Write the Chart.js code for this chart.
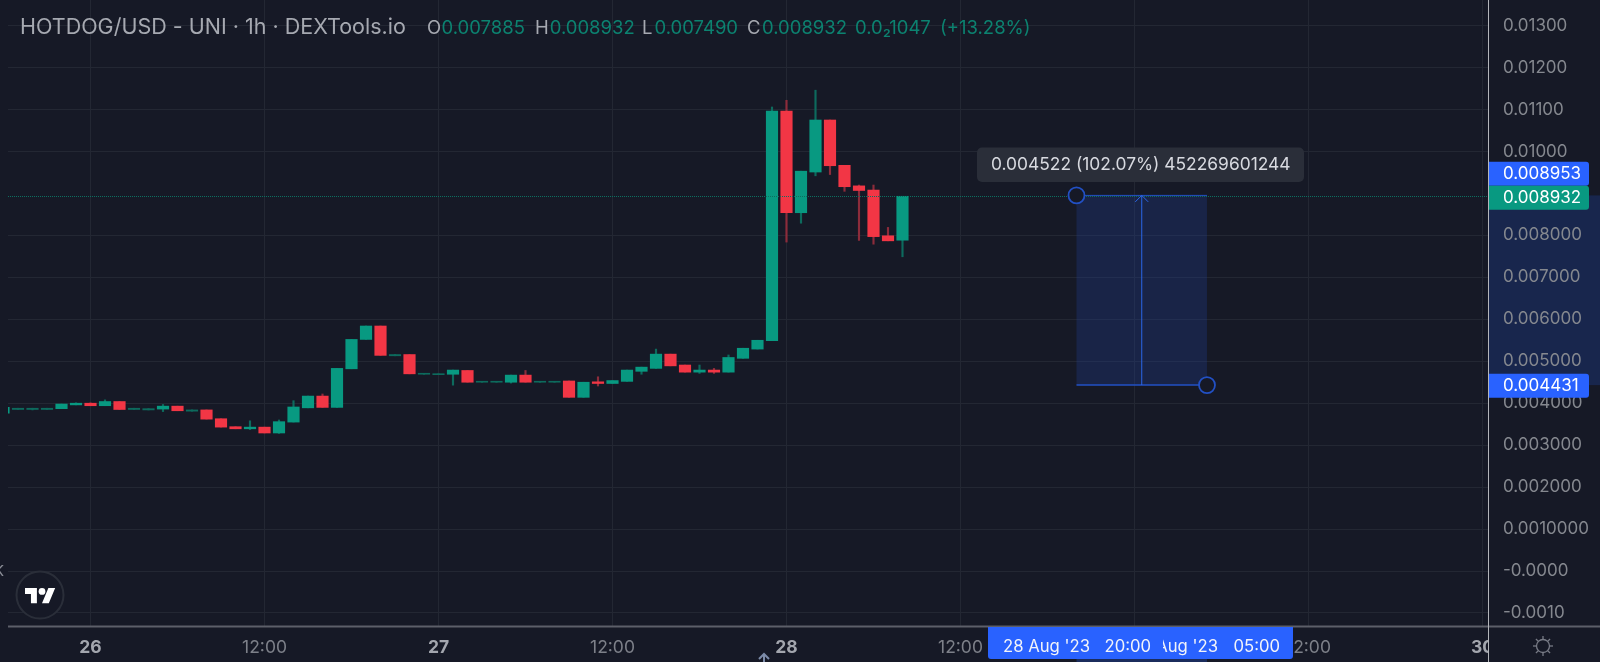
<!DOCTYPE html>
<html>
<head>
<meta charset="utf-8">
<title>HOTDOG/USD</title>
<script src="https://cdn.jsdelivr.net/npm/chart.js@4/dist/chart.umd.min.js"></script>
<style>
html,body{margin:0;padding:0;background:#161926;overflow:hidden}
canvas{display:block}
</style>
</head>
<body>
<canvas id="c" width="1600" height="662"></canvas>
<script>
// hourly candles, first one is 25 Aug 18:00 (hour 0 = 26 Aug 00:00)
const firstHour = -6;
const opens  = [.00376,.00385,.00385,.00385,.00387,.00396,.00400,.00394,.00404,.00385,.00384,.00386,.00393,.00381,.00384,.00363,.00344,.00339,.00343,.00329,.00355,.00389,.00417,.00390,.00482,.00552,.00584,.00513,.00516,.00469,.00468,.00469,.00478,.00450,.00450,.00450,.00467,.00450,.00450,.00453,.00414,.00451,.00447,.00452,.00476,.00483,.00517,.00491,.00474,.00479,.00474,.00507,.00529,.00549,.01096,.00854,.00951,.01075,.00967,.00918,.00908,.00799,.007885];
const highs  = [.00390,.00388,.00388,.00388,.00398,.00401,.00401,.00408,.00404,.00388,.00387,.00397,.00393,.00384,.00384,.00363,.00344,.00358,.00343,.00360,.00406,.00417,.00422,.00483,.00552,.00584,.00584,.00516,.00516,.00471,.00470,.00479,.00478,.00452,.00452,.00467,.00478,.00452,.00452,.00453,.00450,.00463,.00454,.00479,.00486,.00529,.00517,.00491,.00491,.00483,.00515,.00531,.00550,.01106,.01122,.00953,.01146,.01075,.00967,.00920,.00920,.00819,.008932];
const lows   = [.00376,.00385,.00384,.00385,.00387,.00396,.00394,.00394,.00385,.00385,.00384,.00380,.00382,.00381,.00362,.00343,.00339,.00337,.00329,.00328,.00355,.00389,.00390,.00390,.00482,.00552,.00514,.00513,.00470,.00469,.00468,.00443,.00450,.00450,.00450,.00448,.00450,.00450,.00450,.00414,.00414,.00441,.00447,.00452,.00469,.00483,.00489,.00474,.00471,.00471,.00474,.00507,.00529,.00549,.00784,.00829,.00942,.00945,.00905,.00788,.00779,.00787,.007490];
const closes = [.00390,.00388,.00388,.00388,.00398,.00400,.00394,.00404,.00385,.00388,.00387,.00393,.00382,.00384,.00362,.00343,.00339,.00343,.00329,.00356,.00391,.00417,.00390,.00483,.00552,.00584,.00514,.00516,.00470,.00471,.00470,.00479,.00450,.00452,.00452,.00467,.00450,.00452,.00452,.00414,.00450,.00447,.00454,.00479,.00486,.00517,.00489,.00474,.00479,.00474,.00509,.00531,.00550,.01096,.00854,.00953,.01075,.00966,.00916,.00907,.00797,.00787,.008932];

const priceTicks = [.013,.012,.011,.01,.009,.008,.007,.006,.005,.004,.003,.002,.001,0,-.001];
const priceLabels = ['0.01300','0.01200','0.01100','0.01000','','0.008000','0.007000','0.006000','0.005000','0.004000','0.003000','0.002000','0.0010000','-0.0000','-0.0010'];
const timeTicks = [0,12,24,36,48,60,72,84,96];
const timeLabels = ['26','12:00','27','12:00','28','12:00','29','12:00','30'];

const lastPrice = 0.008932;
const measureHours = [68,77];
const measurePrices = [0.008953,0.004431];

const UP='#089981', DOWN='#f23645', UP_DIM='#0d6a5d', DOWN_DIM='#8c2c3b';
const BG='#161926', GRID='#232733', FONT='Inter, "Liberation Sans", sans-serif';

const hours = opens.map((_,i)=>firstHour+i);
const isUp = i => closes[i]>=opens[i];
const isFlat = i => Math.abs(closes[i]-opens[i])<.00004;
const bodies = hours.map((h,i)=>({x:h,y:[opens[i],closes[i]]}));
const wicks = hours.map((h,i)=>({x:h,y:[lows[i],highs[i]]}));

function rr(g,x,y,w,h,r){g.beginPath();g.roundRect(x,y,w,h,r);}

const backPlugin = {
  id:'back',
  beforeDraw(chart){
    const g=chart.ctx, y=chart.scales.y;
    g.save();
    g.fillStyle=BG;g.fillRect(0,0,1600,662);
    g.fillStyle='#18264d';
    g.fillRect(chart.chartArea.right,y.getPixelForValue(measurePrices[0]),112,y.getPixelForValue(measurePrices[1])-y.getPixelForValue(measurePrices[0]));
    g.restore();
  }
};

const overlayPlugin = {
  id:'overlay',
  afterDatasetsDraw(chart){
    const g=chart.ctx, xs=chart.scales.x, ys=chart.scales.y, a=chart.chartArea;
    const x0=xs.getPixelForValue(measureHours[0]), x1=xs.getPixelForValue(measureHours[1]);
    const y0=ys.getPixelForValue(measurePrices[0]), y1=ys.getPixelForValue(measurePrices[1]);
    const mid=(x0+x1)/2;
    g.save();
    // measure box
    g.fillStyle='rgba(33,62,140,.33)';
    g.fillRect(x0,y0,x1-x0,y1-y0);
    // last price dotted line
    const py=Math.round(ys.getPixelForValue(lastPrice))+.5;
    g.strokeStyle='#0c6f60';g.lineWidth=1;g.setLineDash([1,1]);
    g.beginPath();g.moveTo(a.left,py);g.lineTo(a.right,py);g.stroke();
    g.setLineDash([]);
    // box edges and arrow
    g.strokeStyle='#2250c4';g.lineWidth=1;
    g.beginPath();g.moveTo(x0,y0);g.lineTo(x1,y0);g.stroke();
    g.lineWidth=1.5;
    g.beginPath();g.moveTo(x0,y1);g.lineTo(x1,y1);g.stroke();
    g.strokeStyle='#2b66e8';g.lineWidth=1;
    g.beginPath();g.moveTo(mid,y1);g.lineTo(mid,y0);g.stroke();
    g.beginPath();g.moveTo(mid-6.5,y0+6.5);g.lineTo(mid,y0);g.lineTo(mid+6.5,y0+6.5);g.stroke();
    // handles
    g.strokeStyle='#2250c4';g.lineWidth=1.8;g.fillStyle=BG;
    [[x0,y0],[x1,y1]].forEach(p=>{g.beginPath();g.arc(p[0],p[1],8,0,Math.PI*2);g.fill();g.stroke();});
    // tooltip
    g.fillStyle='#2a2e39';rr(g,977,147.5,327,34.5,5);g.fill();
    g.fillStyle='#d8dae0';g.font='17.4px '+FONT;g.textAlign='left';g.textBaseline='middle';
    g.fillText('0.004522 (102.07%) 452269601244',991,165);
    // TV logo
    g.fillStyle=BG;g.strokeStyle='#2a2e39';g.lineWidth=2;
    g.beginPath();g.arc(40,595,23.5,0,Math.PI*2);g.fill();g.stroke();
    g.save();g.translate(25,584.6);g.scale(.85,.85);
    g.fillStyle='#fff';g.fill(new Path2D('M14 22H7V11H0V4h14v18zM28 22h-8l7.5-18h8L28 22z'));
    g.beginPath();g.arc(20,8,4,0,Math.PI*2);g.fill();
    g.restore();
    g.restore();
  },
  afterDraw(chart){
    const g=chart.ctx, xs=chart.scales.x, ys=chart.scales.y, a=chart.chartArea;
    const x0=xs.getPixelForValue(measureHours[0]), x1=xs.getPixelForValue(measureHours[1]);
    g.save();
    // corner under the price scale
    g.fillStyle=BG;g.fillRect(a.right,a.bottom,112,36);
    // axis lines
    g.fillStyle='#5c5f69';g.fillRect(8,a.bottom-.5,1592,2);
    g.fillStyle='#b4b6bb';g.fillRect(a.right,0,1,662);
    // time range label
    g.fillStyle='#1b2c5c';g.fillRect(x0,658,x1-x0,4);
    g.fillStyle='#2962ff';rr(g,988,a.bottom+1,305,32,[0,0,3,3]);g.fill();
    g.fillStyle='#f2f4fa';g.font='16.7px '+FONT;g.textBaseline='middle';g.textAlign='left';
    const ty=646.5;
    g.fillText("28 Aug '23",1003,ty);
    g.fillText('20:00',1104.5,ty);
    g.save();g.beginPath();g.rect(1163,a.bottom,130,36);g.clip();
    g.textAlign='right';g.fillText("29 Aug '23",1218,ty);g.restore();
    g.fillText('05:00',1233.5,ty);
    // price labels
    g.font='17px '+FONT;
    [[161.7,'#2962ff','0.008953'],[185.7,'#089981','0.008932'],[373.7,'#2962ff','0.004431']].forEach(l=>{
      g.fillStyle=l[1];rr(g,a.right+1,l[0],100,24,[0,3,3,0]);g.fill();
      g.fillStyle='#fff';g.textAlign='left';g.fillText(l[2],1503,l[0]+12.5);
    });
    // gear
    g.strokeStyle='#787b86';g.lineWidth=1.3;
    g.beginPath();g.arc(1543,646,6.5,0,Math.PI*2);g.stroke();
    for(let i=0;i<8;i++){
      const t=i*Math.PI/4, c=Math.cos(t), s=Math.sin(t);
      g.beginPath();g.moveTo(1543+6.5*c,646+6.5*s);g.lineTo(1543+10*c,646+10*s);g.stroke();
    }
    // small arrow under the chart
    g.strokeStyle='#7c8ba8';g.lineWidth=2;
    g.beginPath();g.moveTo(764,662);g.lineTo(764,654);g.moveTo(759,659);g.lineTo(764,654);g.lineTo(769,659);g.stroke();
    // clipped letter on the left edge
    g.fillStyle='#8a8d96';g.font='15px '+FONT;g.textAlign='left';g.fillText('K',-6,571);
    // header
    g.textBaseline='middle';
    g.fillStyle='#a6a9b1';g.font='21.5px '+FONT;
    g.fillText('HOTDOG/USD - UNI · 1h · DEXTools.io',20,28);
    g.font='18.5px '+FONT;
    [['O',427],['H',535],['L',642],['C',747]].forEach(t=>{g.fillStyle='#a6a9b1';g.fillText(t[0],t[1],28);});
    g.fillStyle='#0c8270';
    g.fillText('0.007885',441.5,28);g.fillText('0.008932',549.7,28);g.fillText('0.007490',654.5,28);g.fillText('0.008932',762,28);
    g.fillText('0.0₂1047',855,28);g.fillText('(+13.28%)',940,28);
    g.restore();
  }
};

new Chart(document.getElementById('c'),{
  type:'bar',
  data:{datasets:[
    {data:wicks,order:2,grouped:false,barThickness:1.5,borderSkipped:false,
      backgroundColor:c=>isUp(c.dataIndex)?UP_DIM:DOWN_DIM},
    {data:bodies,order:1,grouped:false,barThickness:11.5,borderSkipped:false,minBarLength:1,
      backgroundColor:c=>isFlat(c.dataIndex)?(isUp(c.dataIndex)?UP_DIM:DOWN_DIM):(isUp(c.dataIndex)?UP:DOWN)}
  ]},
  options:{
    responsive:false,animation:false,
    layout:{padding:{left:8,right:0,top:0,bottom:0}},
    plugins:{legend:{display:false},tooltip:{enabled:false}},
    scales:{
      x:{type:'linear',min:-5.69,max:96.38,offset:false,
        grid:{color:GRID,drawTicks:false,offset:false},border:{display:false},
        afterBuildTicks(s){s.ticks=timeTicks.map(v=>({value:v}));},
        afterFit(s){s.height=36;s.paddingRight=0;s.paddingLeft=0;},
        ticks:{autoSkip:false,maxRotation:0,padding:11,
          callback:(v,i)=>timeLabels[i],
          color:c=>c.index%2?'#7d8089':'#a3a6ae',
          font:c=>({family:FONT,size:17.5,weight:c.index%2?'400':'700'})}},
      y:{position:'right',min:-.00131,max:.01361,
        grid:{color:c=>priceLabels[c.index]===''?'transparent':GRID,drawTicks:false},border:{display:false},
        afterBuildTicks(s){s.ticks=priceTicks.map(v=>({value:v}));},
        afterFit(s){s.width=112;s.paddingTop=0;s.paddingBottom=0;},
        ticks:{autoSkip:false,padding:15,
          callback:(v,i)=>priceLabels[i],
          color:'#85888f',font:{family:FONT,size:17}}}
    }
  },
  plugins:[backPlugin,overlayPlugin]
});
</script>
</body>
</html>
